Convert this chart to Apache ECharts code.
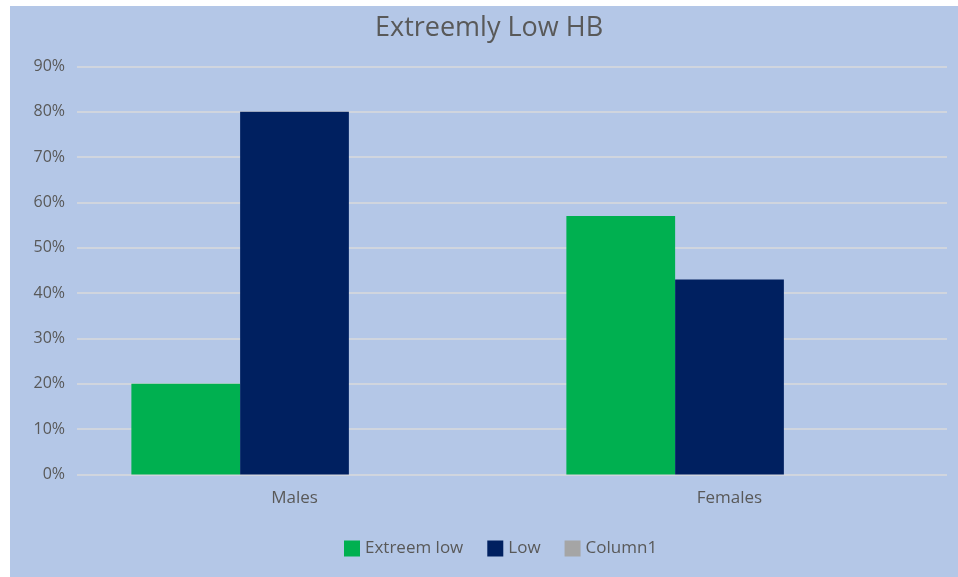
<!DOCTYPE html>
<html>
<head>
<meta charset="utf-8">
<script src="https://cdn.jsdelivr.net/npm/echarts@6/dist/echarts.min.js"></script>
<style>
  html, body { margin: 0; padding: 0; background: #ffffff; }
  #chart { position: absolute; left: 10px; top: 6px; width: 948px; height: 571px; }
</style>
</head>
<body>
<div id="chart"></div>
<script>
// Haemoglobin groups by sex
const categories = ['Males', 'Females'];
const extreemLow = [0.20, 0.57];
const low = [0.80, 0.43];
const column1 = [0, 0];
const yTicks = [0, 0.1, 0.2, 0.3, 0.4, 0.5, 0.6, 0.7, 0.8, 0.9];

const textColor = '#595959';
const fontFamily = 'Open Sans, Lato, sans-serif';

const chart = echarts.init(document.getElementById('chart'), null, { renderer: 'canvas' });

const barBase = {
  type: 'bar',
  barGap: '0%',
  barCategoryGap: '25%'
};

chart.setOption({
  backgroundColor: '#B4C7E7',
  animation: false,
  title: {
    text: 'Extreemly Low HB',
    left: 360,
    top: 4,
    textStyle: { color: textColor, fontFamily: fontFamily, fontSize: 27, fontWeight: 'normal' }
  },
  legend: {
    bottom: 15,
    left: 329,
    itemWidth: 16,
    itemHeight: 16,
    itemGap: 24,
    icon: 'rect',
    textStyle: { color: textColor, fontFamily: fontFamily, fontSize: 17 },
    data: ['Extreem low', 'Low', 'Column1']
  },
  grid: { left: 67, right: 11, top: 60.5, bottom: 102.5, containLabel: false },
  xAxis: {
    type: 'category',
    data: categories,
    axisLine: { show: false },
    axisTick: { show: false },
    axisLabel: { color: textColor, fontFamily: fontFamily, fontSize: 17, margin: 15 }
  },
  yAxis: {
    type: 'value',
    min: yTicks[0],
    max: yTicks[yTicks.length - 1],
    interval: 0.1,
    axisLine: { show: false },
    axisTick: { show: false },
    splitLine: { lineStyle: { color: '#D0D5DE', width: 2 } },
    axisLabel: {
      color: textColor, fontFamily: fontFamily, fontSize: 16, margin: 12,
      formatter: v => Math.round(v * 100) + '%'
    }
  },
  series: [
    Object.assign({}, barBase, { name: 'Extreem low', data: extreemLow, itemStyle: { color: '#00B050' } }),
    Object.assign({}, barBase, { name: 'Low', data: low, itemStyle: { color: '#002060' } }),
    Object.assign({}, barBase, { name: 'Column1', data: column1, itemStyle: { color: '#A5A5A5' } })
  ]
});
</script>
</body>
</html>
